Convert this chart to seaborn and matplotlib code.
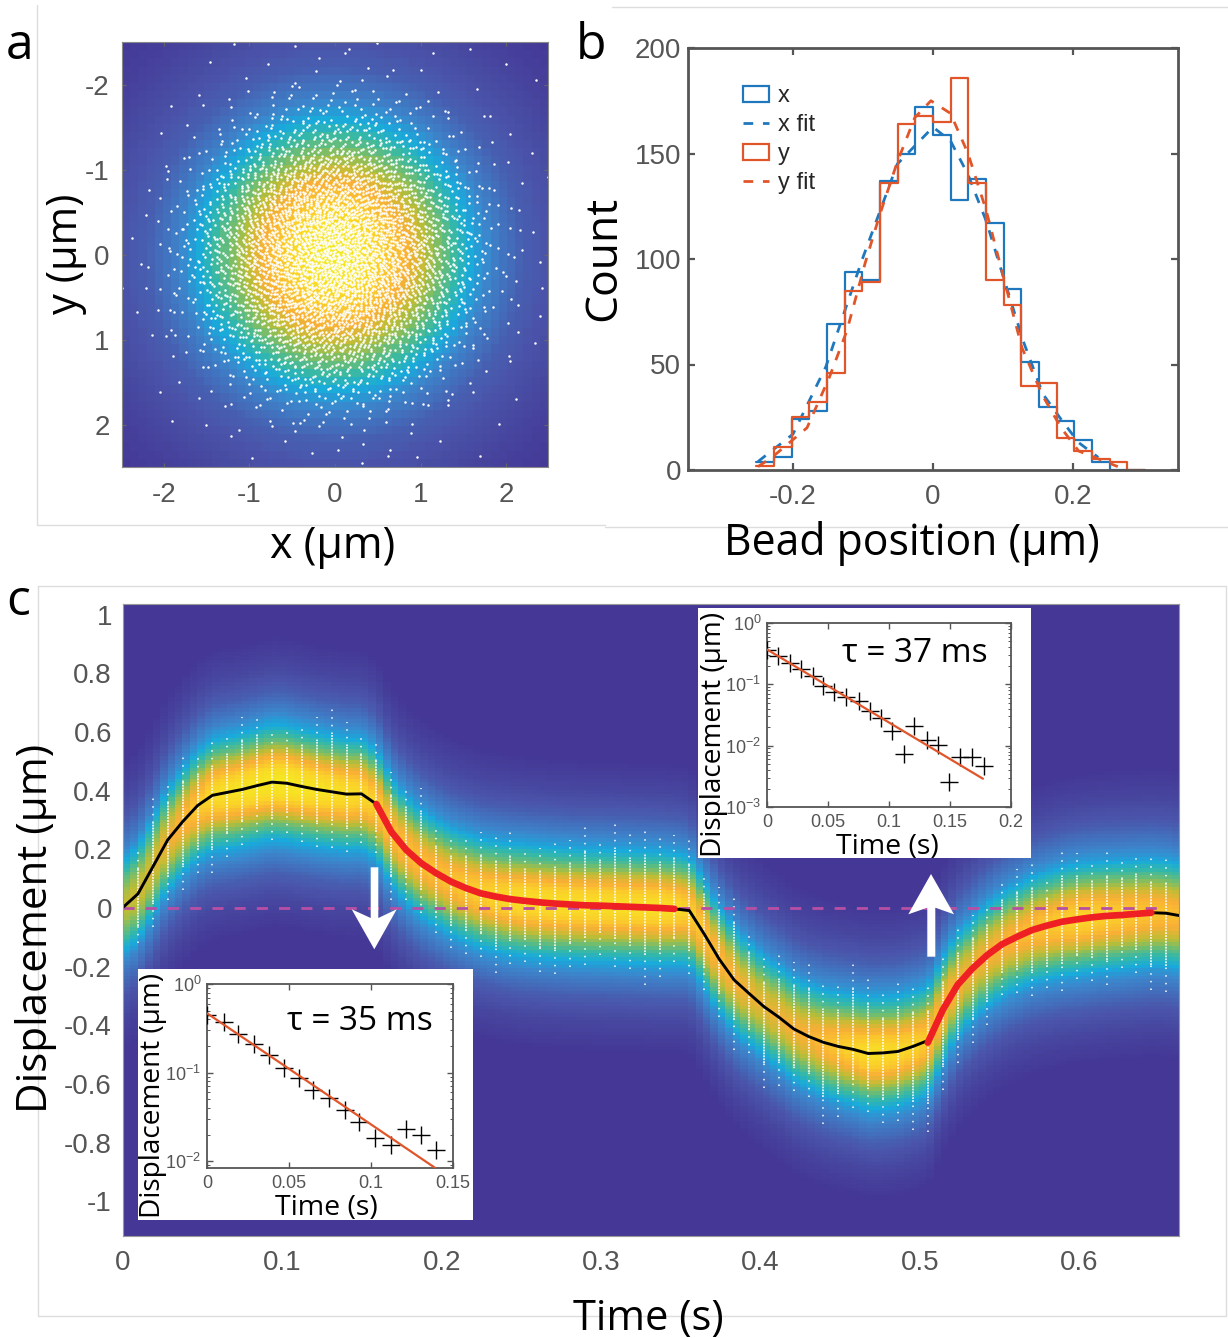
import numpy as np
import pandas as pd
import matplotlib
matplotlib.use("Agg")
import matplotlib.pyplot as plt
import seaborn as sns
from matplotlib.colors import LinearSegmentedColormap
from matplotlib.lines import Line2D
from matplotlib.patches import Patch, Polygon
from matplotlib.transforms import Affine2D
from matplotlib.ticker import LogLocator, NullFormatter

W, H = 1228, 1338
sns.set_theme(style="white")
plt.rcParams["font.family"] = ["Liberation Sans", "DejaVu Sans"]
plt.rcParams["mathtext.default"] = "regular"
LABEL_FONT = ["Open Sans", "DejaVu Sans"]
GREY = "#555555"
BLUE = "#1f78be"
ORANGE = "#e0562a"

# ---- panel a: heat field radial profile
a_radius = [0, .35, .5, .85, 1.05, 1.25, 1.6, 1.85, 2.2, 2.6, 3.0, 3.6]
a_level = [1, .95, .9, .8, .7, .6, .4, .28, .16, .1, .05, 0]
# dots per 0.2 um wide ring, estimated from local dot spacing in the picture
ring_centres = [.1, .3, .5, .7, .9, 1.1, 1.3, 1.5, 1.7, 1.9, 2.1, 2.3, 2.5, 2.7, 2.9, 3.1]
ring_counts = [140, 400, 600, 700, 700, 620, 490, 380, 240, 130, 70, 42, 25, 14, 11, 8]
a_ticks = [-2, -1, 0, 1, 2]

# ---- panel b: histogram
bin_edges = [-.2525, -.2273, -.2020, -.1768, -.1515, -.1263, -.1010, -.0758, -.0505, -.0253, 0,
             .0252, .0505, .0757, .1010, .1262, .1515, .1767, .2020, .2272, .2525, .2777, .3030]
x_counts = [4, 6, 24, 28, 69, 94, 90, 137, 150, 172, 159, 128, 138, 117, 86, 51, 30, 23, 14, 4, 0, 0]
y_counts = [2, 11, 25, 32, 46, 85, 89, 136, 164, 168, 165, 186, 136, 90, 78, 40, 41, 15, 9, 5, 4, 0]
xfit_pos = [-.25, -.2, -.153, -.102, -.051, 0, .025, .05, .076, .101, .129, .157, .183, .208, .236]
xfit_val = [4, 17, 49, 99, 145, 162.5, 156, 140, 118, 91, 61, 36, 24, 13, 6]
yfit_pos = [-.25, -.23, -.18, -.148, -.123, -.097, -.077, -.051, -.026, -.003, .025, .05, .076, .101, .127, .157, .183, .208, .264]
yfit_val = [1.6, 6, 20, 44, 66, 98, 120, 146, 167, 175, 169, 150, 123, 91, 58, 35, 20, 9, 1.6]

# ---- panel c: mean displacement per time sample
dt = 0.00935
rise_a = [.002, .048, .14, .232, .294, .349, .384, .394, .404, .417, .429, .425, .414, .404, .396, .388, .389, .354]
decay_a = [.354, .26, .198, .153, .119, .09, .068, .05, .039, .03, .024, .019, .015, .012, .009, .008, .006, .004, .002, 0, -.003]
fall_b = [-.004, -.009, -.089, -.174, -.245, -.291, -.336, -.372, -.412, -.438, -.458, -.472, -.482, -.496, -.494, -.489, -.472, -.452]
decay_b = [-.459, -.348, -.262, -.206, -.160, -.123, -.098, -.075, -.060, -.047, -.039, -.032, -.027, -.024, -.020, -.016]
tail = [-.016, -.018, -.027]
# highest and lowest white dot in each time column
dots_high = [.124, .192, .374, .436, .516, .533, .564, .601, .652, .663, .606, .609, .629, .652, .683, .635, .590, .575,
             .465, .416, .408, .277, .245, .252, .26, .243, .26, .203, .203, .22, .232, .283, .234, .297, .257, .279,
             .245, .249, .234, .120, .073, .050, -.075, -.171, -.160, -.183, -.188, -.257, -.266, -.180, -.243, -.293,
             -.251, -.266, -.259, -.171, -.069, -.024, .018, .098, .132, .152, .101, .198, .189, .166, .192, .169, .189, .169, .166, .166]
dots_low = [-.115, -.12, -.064, .027, .061, .118, .118, .175, .215, .260, .232, .257, .226, .209, .204, .192, .220, .186,
            .027, .027, -.018, -.086, -.135, -.157, -.168, -.220, -.192, -.183, -.217, -.225, -.200, -.194, -.160, -.200,
            -.209, -.262, -.236, -.183, -.225, -.279, -.370, -.484, -.495, -.612, -.606, -.623, -.645, -.736, -.711, -.683,
            -.694, -.734, -.726, -.756, -.764, -.620, -.529, -.461, -.398, -.296, -.291, -.30, -.274, -.283, -.243, -.248,
            -.262, -.205, -.220, -.279, -.285, -.285]
# colour profile across the band, and how strong the band core is along time
band_dist = [0, .05, .09, .14, .195, .25, .31, .39, .5]
band_level = [1, .92, .8, .6, .4, .28, .16, .07, 0]
peak_t = [0, .02, .04, .06, .1, .15, .17, .2, .25, .3, .34, .37, .4, .43, .47, .5, .53, .56, .6, .66]
peak_v = [.72, .76, .85, .95, 1, .93, .86, .86, .95, .95, .95, .85, .78, .82, .95, .9, .8, .84, .92, .85]
c_xticks = [0, .1, .2, .3, .4, .5, .6]
c_xlabels = ["0", "0.1", "0.2", "0.3", "0.4", "0.5", "0.6"]
c_yticks = [1, .8, .6, .4, .2, 0, -.2, -.4, -.6, -.8, -1]
c_ylabels = ["1", "0.8", "0.6", "0.4", "0.2", "0", "-0.2", "-0.4", "-0.6", "-0.8", "-1"]

# ---- insets
ins1_t = [0, .0087, .0191, .0279, .0377, .0459, .0546, .065, .0751, .0847, .0934, .1025, .112, .1208, .1311, .1399, .1489, .1585, .168, .1776]
ins1_d = [.369, .288, .224, .175, .136, .0936, .0757, .0628, .0541, .0372, .0279, .0176, .00736, .021, .0124, .0104, .00252, .0065, .0065, .0047]
ins1_fit_t = [0, .177]
ins1_fit_d = [.37, .00289]
ins2_t = [0, .0102, .019, .0285, .0379, .0469, .0563, .0644, .0746, .084, .0929, .1027, .1121, .1211, .1304, .1398]
ins2_d = [.448, .370, .274, .209, .157, .113, .0875, .0641, .0521, .0382, .028, .0183, .0154, .0231, .0196, .0135]
ins2_fit_t = [0, .1392]
ins2_fit_d = [.468, .0084]

heat = LinearSegmentedColormap.from_list("heat", [
    (0, "#443795"), (.12, "#4a55aa"), (.3, "#3c86cc"), (.4, "#18aadc"), (.5, "#35b8a8"),
    (.6, "#70bd70"), (.7, "#bdbd35"), (.8, "#f9af35"), (.9, "#fad528"), (1, "#f4ec20")])

fig = plt.figure(figsize=(W / 100, H / 100), dpi=100, facecolor="white")
px = Affine2D().scale(1 / W, -1 / H).translate(0, 1) + fig.transFigure


def box(l, t, r, b, **kw):
    return fig.add_axes([l / W, 1 - b / H, (r - l) / W, (b - t) / H], **kw)


def label(x, y, s, size, rot=0, color="black"):
    fig.text(x, y, s, transform=px, fontsize=size, rotation=rot, ha="center", va="center",
             family=LABEL_FONT, color=color, zorder=10)


def style_ticks(ax, size, xpad=6, ypad=6, **kw):
    ax.tick_params(labelsize=size, labelcolor=GREY, **kw)
    ax.tick_params(axis="x", pad=xpad)
    ax.tick_params(axis="y", pad=ypad)


def vdc(n, base):
    # van der Corput low-discrepancy value: deterministic, no random numbers
    v, f = 0.0, 1.0 / base
    while n:
        v += (n % base) * f
        n //= base
        f /= base
    return v


# frames
for xs, ys in [([37, 37], [5, 525]), ([37, 605], [525, 525]), ([612, 1228], [7, 7]), ([605, 1228], [527, 527]),
               ([38, 1226, 1226, 38, 38], [586, 586, 1316, 1316, 586])]:
    fig.add_artist(Line2D(xs, ys, transform=px, color="#dddddd", lw=1))

# ---------------- panel a
L, T, R, B = 122, 42, 548, 467
ah = box(L, T, R, B)
grid = (np.arange(52) + .5) / 52 * 5 - 2.5
gx, gy = np.meshgrid(grid, grid)
field = np.interp(np.hypot(gx, gy), a_radius, a_level)
sns.heatmap(field, ax=ah, cmap=heat, vmin=0, vmax=1, cbar=False, xticklabels=False, yticklabels=False, rasterized=True)
ah.set_axis_off()

ax = box(L, T, R, B)
ax.patch.set_alpha(0)
# ring counts are read values; placement inside a ring is a Halton sequence
dx, dy, k = [], [], 0
for rc, n in zip(ring_centres, ring_counts):
    for _ in range(n):
        k += 1
        rad = np.sqrt((rc - .1) ** 2 + vdc(k, 3) * ((rc + .1) ** 2 - (rc - .1) ** 2))
        ang = 2 * np.pi * vdc(k, 7)
        dx.append(rad * np.cos(ang))
        dy.append(rad * np.sin(ang))
sns.scatterplot(x=dx, y=dy, ax=ax, s=3.2, color="white", linewidth=0, legend=False)
ax.set_xlim(-2.49, 2.49)
ax.set_ylim(2.5, -2.5)
ax.set_xticks(a_ticks)
ax.set_yticks(a_ticks)
ax.set_xticklabels([str(v) for v in a_ticks])
ax.set_yticklabels([str(v) for v in a_ticks])
style_ticks(ax, 20, xpad=11, ypad=9, direction="in", length=3, width=.8, color="#666666", bottom=True, left=True, top=True, right=True)
for s in ax.spines.values():
    s.set_color("#888888")
    s.set_linewidth(.8)
label(66, 254, "y (\u00b5m)", 30, rot=90)
label(333, 547, "x (\u00b5m)", 31)
label(20, 46, "a", 36)

# ---------------- panel b
ax = box(688, 48, 1178, 470)
centres = [(a + b) / 2 for a, b in zip(bin_edges[:-1], bin_edges[1:])]
df = pd.DataFrame({"pos": centres, "x": x_counts, "y": y_counts})
sns.histplot(df, x="pos", weights="x", bins=bin_edges, element="step", fill=False, color=BLUE, linewidth=1.6, ax=ax)
sns.lineplot(x=xfit_pos, y=xfit_val, ax=ax, color=BLUE, lw=2, dashes=[(3.5, 3.5)], style=[0] * len(xfit_pos), legend=False)
sns.histplot(df, x="pos", weights="y", bins=bin_edges, element="step", fill=False, color=ORANGE, linewidth=1.6, ax=ax)
sns.lineplot(x=yfit_pos, y=yfit_val, ax=ax, color=ORANGE, lw=2, dashes=[(3.5, 3.5)], style=[0] * len(yfit_pos), legend=False)
ax.set_xlim(-.35, .35)
ax.set_ylim(0, 200)
ax.set_xticks([-.2, 0, .2])
ax.set_xticklabels(["-0.2", "0", "0.2"])
ax.set_yticks([0, 50, 100, 150, 200])
ax.set_xlabel("")
ax.set_ylabel("")
style_ticks(ax, 20, xpad=10, ypad=5, direction="in", length=5, width=1.6, color=GREY, bottom=True, left=True, top=True, right=True)
for s in ax.spines.values():
    s.set_color(GREY)
    s.set_linewidth(2)
handles = [Patch(facecolor="none", edgecolor=BLUE, lw=1.6), Line2D([], [], color=BLUE, lw=2, ls=(0, (3.5, 3.5))),
           Patch(facecolor="none", edgecolor=ORANGE, lw=1.6), Line2D([], [], color=ORANGE, lw=2, ls=(0, (3.5, 3.5)))]
ax.legend(handles, ["x", "x fit", "y", "y fit"], loc="upper left", bbox_to_anchor=(.112, .912), frameon=False,
          fontsize=17, handlelength=1.1, handleheight=.66, handletextpad=.38, labelspacing=.3, borderpad=0, borderaxespad=0)
label(604, 258, "Count", 32, rot=90)
label(912, 544, "Bead position (\u00b5m)", 30.8)
label(591, 46, "b", 36)

# ---------------- panel c
L, T, R, B = 123, 604, 1179, 1236
x0, x1, y0, y1 = 0, .6625, -1.118, 1.036
idx_a = np.arange(len(rise_a))
idx_ad = np.arange(len(rise_a) - 1, len(rise_a) - 1 + len(decay_a))
idx_b = np.arange(idx_ad[-1], idx_ad[-1] + len(fall_b))
idx_bd = np.arange(idx_b[-1], idx_b[-1] + len(decay_b))
idx_t = np.arange(idx_bd[-1], idx_bd[-1] + len(tail))
col_t = np.concatenate([idx_a, idx_ad[1:], idx_b[1:], idx_bd[1:], idx_t[1:]]) * dt
col_v = np.concatenate([rise_a, decay_a[1:], fall_b[1:], decay_b[1:], tail[1:]])
hi = np.array(dots_high)
lo = np.array(dots_low)

ah = box(L, T, R, B)
nc, nr = 142, 170
tc = (np.arange(nc) + .5) / nc * (x1 - x0)
vr = y1 - (np.arange(nr) + .5) / nr * (y1 - y0)
cen = np.interp(tc, col_t, col_v)
pk = np.interp(tc, peak_t, peak_v)
cfield = np.interp(np.abs(vr[:, None] - cen[None, :]), band_dist, band_level) * pk[None, :]
sns.heatmap(cfield, ax=ah, cmap=heat, vmin=0, vmax=1, cbar=False, xticklabels=False, yticklabels=False, rasterized=True)
ah.set_axis_off()

ax = box(L, T, R, B)
ax.patch.set_alpha(0)
mid = (hi + lo) / 2
half = (hi - lo) / 2
ax.vlines(col_t, mid - .62 * half, mid + .62 * half, color="white", lw=1.1, linestyles=[(0, (1.2, .7))])
ax.vlines(col_t, mid + .62 * half, hi, color="white", lw=1.1, linestyles=[(0, (1, 4))])
ax.vlines(col_t, lo, mid - .62 * half, color="white", lw=1.1, linestyles=[(0, (1, 4))])
ax.plot([0, .655], [0, 0], color="#b84fa5", lw=2, ls=(0, (4, 4)))
sns.lineplot(x=col_t, y=col_v, ax=ax, color="black", lw=2.1)
sns.lineplot(x=idx_ad * dt, y=decay_a, ax=ax, color="#ee2024", lw=4.8)
sns.lineplot(x=idx_bd * dt, y=decay_b, ax=ax, color="#ee2024", lw=4.8)
ax.set_xlim(x0, x1)
ax.set_ylim(y0, y1)
ax.set_xticks(c_xticks)
ax.set_xticklabels(c_xlabels)
ax.set_yticks(c_yticks)
ax.set_yticklabels(c_ylabels)
style_ticks(ax, 20, xpad=10, ypad=8, length=0)
for s in ax.spines.values():
    s.set_color("#999999")
    s.set_linewidth(.8)
label(36, 928, "Displacement (\u00b5m)", 30.3, rot=90)
label(648, 1319, "Time (s)", 30)
label(18, 602, "c", 36)

fig.add_artist(Polygon([(370.7, 867.3), (378.3, 867.3), (378.3, 918), (396.7, 909.3), (374.3, 949.3), (351.7, 909.3), (370.7, 918)],
                       closed=True, transform=px, facecolor="white", edgecolor="none", zorder=5))
fig.add_artist(Polygon([(931, 874), (954, 914.3), (935.3, 907.7), (935.3, 956.7), (927.3, 956.7), (927.3, 907.7), (908.3, 914.3)],
                       closed=True, transform=px, facecolor="white", edgecolor="none", zorder=5))


# ---------------- insets
def inset(frame, rect, t, d, ft, fd, xlim, ylim, xticks, xtl, tau, tau_xy, yl_xy, xl_xy):
    bg = box(*frame)
    bg.set_xticks([])
    bg.set_yticks([])
    for s in bg.spines.values():
        s.set_visible(False)
    bg.set_facecolor("white")
    a = box(*rect)
    sns.scatterplot(x=t, y=d, ax=a, marker="+", s=150, color="black", linewidth=1, legend=False, zorder=3)
    sns.lineplot(x=ft, y=fd, ax=a, color=ORANGE, lw=1.6, zorder=4)
    a.set_yscale("log")
    a.set_xlim(*xlim)
    a.set_ylim(*ylim)
    a.set_xticks(xticks)
    a.set_xticklabels(xtl)
    a.yaxis.set_major_locator(LogLocator(base=10, numticks=6))
    a.yaxis.set_minor_locator(LogLocator(base=10, subs=np.arange(2, 10) * .1, numticks=20))
    a.yaxis.set_minor_formatter(NullFormatter())
    style_ticks(a, 13, xpad=5, ypad=4, direction="in", which="major", length=4, width=1, color=GREY, bottom=True, left=True, top=True, right=True)
    a.tick_params(axis="y", which="minor", direction="in", length=2, width=.7, color=GREY, left=True, right=True)
    for s in a.spines.values():
        s.set_color(GREY)
        s.set_linewidth(1.3)
    label(*yl_xy, "Displacement (\u00b5m)", 20.2, rot=90)
    label(*xl_xy, "Time (s)", 20.5)
    label(*tau_xy, tau, 24)


inset((698, 608, 1031, 858), (767, 623, 1011, 807), ins1_t, ins1_d, ins1_fit_t, ins1_fit_d, (0, .2), (1e-3, 1),
      [0, .05, .1, .15, .2], ["0", "0.05", "0.1", "0.15", "0.2"], "\u03c4 = 37 ms", (915, 653), (714, 734), (887, 847))
inset((138, 969, 473, 1220), (207, 984, 453, 1168), ins2_t, ins2_d, ins2_fit_t, ins2_fit_d, (0, .15), (.0084, 1),
      [0, .05, .1, .15], ["0", "0.05", "0.1", "0.15"], "\u03c4 = 35 ms", (360, 1022), (153, 1095), (326, 1208))

fig.savefig("out.png", dpi=100, facecolor="white")
